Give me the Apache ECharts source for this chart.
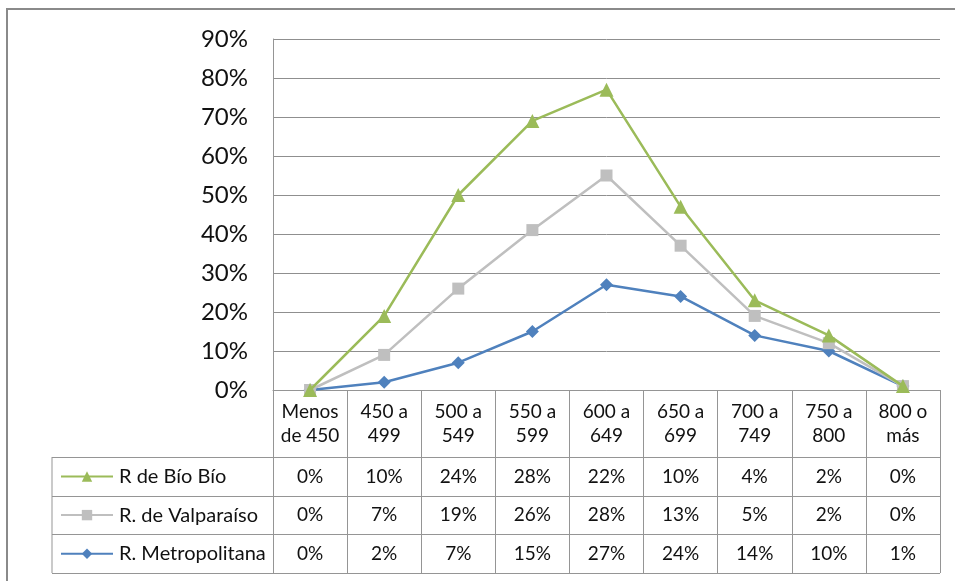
<!DOCTYPE html>
<html>
<head>
<meta charset="utf-8">
<script src="https://cdn.jsdelivr.net/npm/echarts@6/dist/echarts.min.js"></script>
<style>
html,body{margin:0;padding:0;background:#fff;}
#chart{width:955px;height:581px;}
</style>
</head>
<body>
<div id="chart"></div>
<script>
// ---- data ----
const categories = ['Menos\nde 450','450 a\n499','500 a\n549','550 a\n599','600 a\n649','650 a\n699','700 a\n749','750 a\n800','800 o\nmás'];
const seriesNames = ['R de Bío Bío','R. de Valparaíso','R. Metropolitana'];
const bioBio = [0,10,24,28,22,10,4,2,0];
const valparaiso = [0,7,19,26,28,13,5,2,0];
const metropolitana = [0,2,7,15,27,24,14,10,1];
const yTicks = [0,10,20,30,40,50,60,70,80,90];

// ---- layout ----
const W = 955, H = 581;
const plotL = 273, plotR = 940, plotT = 39, plotB = 390;
const headerH = 67;
const rowTops = [457, 496, 534];
const tableBottom = 573;
const tableLeft = 52;
const lineCol = '#959595';
const font = 'Lato, "Noto Sans", sans-serif';
const txt = '#111';

const rowData = [bioBio, valparaiso, metropolitana];

const xAxes = [{
  type: 'category', data: categories, gridIndex: 0, position: 'bottom',
  boundaryGap: true,
  axisLine: {show: true, lineStyle: {color: lineCol, width: 1}},
  axisTick: {show: true, interval: 0, length: headerH, lineStyle: {color: lineCol, width: 1}},
  axisLabel: {interval: 0, margin: 10, fontSize: 19, lineHeight: 24, color: txt, fontFamily: font, align: 'center'},
  splitLine: {show: false}
}];
rowData.forEach((arr, k) => {
  const top = rowTops[k];
  const h = (k < 2 ? rowTops[k + 1] : tableBottom) - top;
  xAxes.push({
    type: 'category', data: categories, gridIndex: 0, position: 'bottom',
    offset: top - plotB, boundaryGap: true,
    axisLine: {show: true, lineStyle: {color: lineCol, width: 1}},
    axisTick: {show: true, interval: 0, length: h, lineStyle: {color: lineCol, width: 1}},
    axisLabel: {interval: 0, margin: h / 2 - 10, fontSize: 19, lineHeight: 20, color: txt, fontFamily: font,
      formatter: (v, i) => arr[i] + '%'},
    splitLine: {show: false}
  });
});

const graphics = [
  {type: 'rect', shape: {x: 7, y: 9, width: 1000, height: 700}, style: {fill: 'none', stroke: '#8a8a8a', lineWidth: 2}, silent: true},
  {type: 'line', shape: {x1: tableLeft, y1: rowTops[0], x2: tableLeft, y2: tableBottom}, style: {stroke: lineCol, lineWidth: 1}, silent: true}
];
rowTops.concat([tableBottom]).forEach(y => {
  graphics.push({type: 'line', shape: {x1: tableLeft, y1: y + 0.5, x2: plotR, y2: y + 0.5}, style: {stroke: lineCol, lineWidth: 1}, silent: true});
});

const colors = {bio: '#9BBB59', val: '#BFBFBF', met: '#4F81BD'};

const option = {
  animation: false,
  grid: {left: plotL, right: W - plotR, top: plotT, bottom: H - plotB, containLabel: false},
  legend: {
    orient: 'vertical', left: 60, top: rowTops[0] + 9.5, padding: 0,
    itemWidth: 52, itemHeight: 13, itemGap: 18.6,
    data: seriesNames,
    textStyle: {fontSize: 20, lineHeight: 20, color: txt, fontFamily: font, padding: [0, 0, 0, 1]},
    selectedMode: false
  },
  xAxis: xAxes,
  yAxis: {
    type: 'value', min: yTicks[0], max: yTicks[yTicks.length - 1], interval: 10,
    axisLine: {show: true, lineStyle: {color: lineCol, width: 1}},
    axisTick: {show: false},
    axisLabel: {formatter: '{value}%', fontSize: 24, color: txt, fontFamily: font, margin: 25},
    splitLine: {show: true, lineStyle: {color: '#8f8f8f', width: 1}}
  },
  graphic: graphics,
  series: [
    {name: seriesNames[2], type: 'line', stack: 'total', data: metropolitana, xAxisIndex: 0,
      symbol: 'diamond', symbolSize: 13, itemStyle: {color: colors.met}, lineStyle: {color: colors.met, width: 2.5}, z: 2},
    {name: seriesNames[1], type: 'line', stack: 'total', data: valparaiso, xAxisIndex: 0,
      symbol: 'rect', symbolSize: 12, itemStyle: {color: colors.val}, lineStyle: {color: colors.val, width: 2.5}, z: 3},
    {name: seriesNames[0], type: 'line', stack: 'total', data: bioBio, xAxisIndex: 0,
      symbol: 'triangle', symbolSize: 14, itemStyle: {color: colors.bio}, lineStyle: {color: colors.bio, width: 2.5}, z: 4}
  ]
};

const chart = echarts.init(document.getElementById('chart'), null, {renderer: 'canvas'});
chart.setOption(option);
</script>
</body>
</html>
